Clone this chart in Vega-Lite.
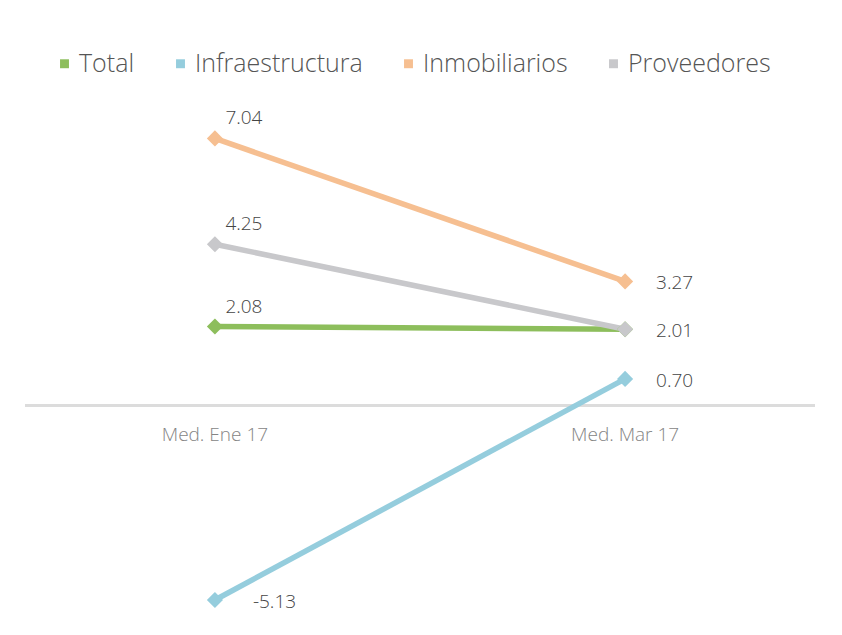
{
  "$schema": "https://vega.github.io/schema/vega-lite/v6.json",
  "autosize": "none",
  "width": 790,
  "height": 531,
  "padding": {"left": 25, "top": 102, "right": 27, "bottom": 2},
  "background": "white",
  "config": {
    "view": {"stroke": null},
    "font": "Open Sans",
    "locale": {
      "number": {"decimal": ".", "thousands": ",", "grouping": [3], "currency": ["$", ""], "minus": "-"}
    }
  },
  "data": {
    "values": [
      {"serie": "Total", "periodo": "Med. Ene 17", "valor": 2.08},
      {"serie": "Total", "periodo": "Med. Mar 17", "valor": 2.01},
      {"serie": "Infraestructura", "periodo": "Med. Ene 17", "valor": -5.13},
      {"serie": "Infraestructura", "periodo": "Med. Mar 17", "valor": 0.70},
      {"serie": "Inmobiliarios", "periodo": "Med. Ene 17", "valor": 7.04},
      {"serie": "Inmobiliarios", "periodo": "Med. Mar 17", "valor": 3.27},
      {"serie": "Proveedores", "periodo": "Med. Ene 17", "valor": 4.25},
      {"serie": "Proveedores", "periodo": "Med. Mar 17", "valor": 2.01}
    ]
  },
  "encoding": {
    "x": {
      "field": "periodo",
      "type": "nominal",
      "sort": ["Med. Ene 17", "Med. Mar 17"],
      "scale": {"type": "point", "padding": 0.463},
      "axis": null
    },
    "y": {
      "field": "valor",
      "type": "quantitative",
      "scale": {"domain": [-6, 8], "nice": false, "zero": false},
      "axis": null
    }
  },
  "layer": [
    {
      "mark": {"type": "rule", "color": "#dcdcdc", "strokeWidth": 2},
      "encoding": {"x": null, "y": {"datum": 0, "type": "quantitative"}}
    },
    {
      "transform": [{"filter": "datum.serie === 'Total'"}],
      "mark": {"type": "text", "fontSize": 19, "fontWeight": 300, "color": "#858585", "baseline": "middle", "dy": 30},
      "encoding": {
        "y": {"datum": 0, "type": "quantitative"},
        "text": {"field": "periodo"}
      }
    },
    {
      "mark": {
        "type": "line",
        "strokeWidth": 5.5,
        "point": {"shape": "diamond", "size": 260, "filled": true, "opacity": 1}
      },
      "encoding": {
        "color": {
          "field": "serie",
          "type": "nominal",
          "scale": {
            "domain": ["Total", "Infraestructura", "Inmobiliarios", "Proveedores"],
            "range": ["#8dbe5c", "#95cddd", "#f6bf91", "#c8c8cb"]
          },
          "legend": {
            "title": null,
            "orient": "none",
            "direction": "horizontal",
            "legendX": 27,
            "legendY": -51,
            "symbolType": "square",
            "symbolSize": 80,
            "symbolStrokeWidth": 0,
            "labelFont": "Open Sans",
            "labelFontWeight": 300,
            "labelFontSize": 25,
            "labelColor": "#555555",
            "labelOffset": 2,
            "columnPadding": 33,
            "labelLimit": 300
          }
        }
      }
    },
    {
      "transform": [
        {"filter": "datum.periodo === 'Med. Ene 17' && datum.valor > 0"}
      ],
      "mark": {"type": "text", "fontSize": 19, "fontWeight": 300, "color": "#444444", "align": "center", "baseline": "middle", "dx": 29, "dy": -20},
      "encoding": {"text": {"field": "valor", "type": "quantitative", "format": ".2f"}}
    },
    {
      "transform": [
        {"filter": "datum.periodo === 'Med. Ene 17' && datum.valor < 0"}
      ],
      "mark": {"type": "text", "fontSize": 19, "fontWeight": 300, "color": "#444444", "align": "left", "baseline": "middle", "dx": 38, "dy": 2},
      "encoding": {"text": {"field": "valor", "type": "quantitative", "format": ".2f"}}
    },
    {
      "transform": [
        {"filter": "datum.periodo === 'Med. Mar 17' && datum.serie !== 'Total'"}
      ],
      "mark": {"type": "text", "fontSize": 19, "fontWeight": 300, "color": "#444444", "align": "left", "baseline": "middle", "dx": 31, "dy": 2},
      "encoding": {"text": {"field": "valor", "type": "quantitative", "format": ".2f"}}
    }
  ]
}
